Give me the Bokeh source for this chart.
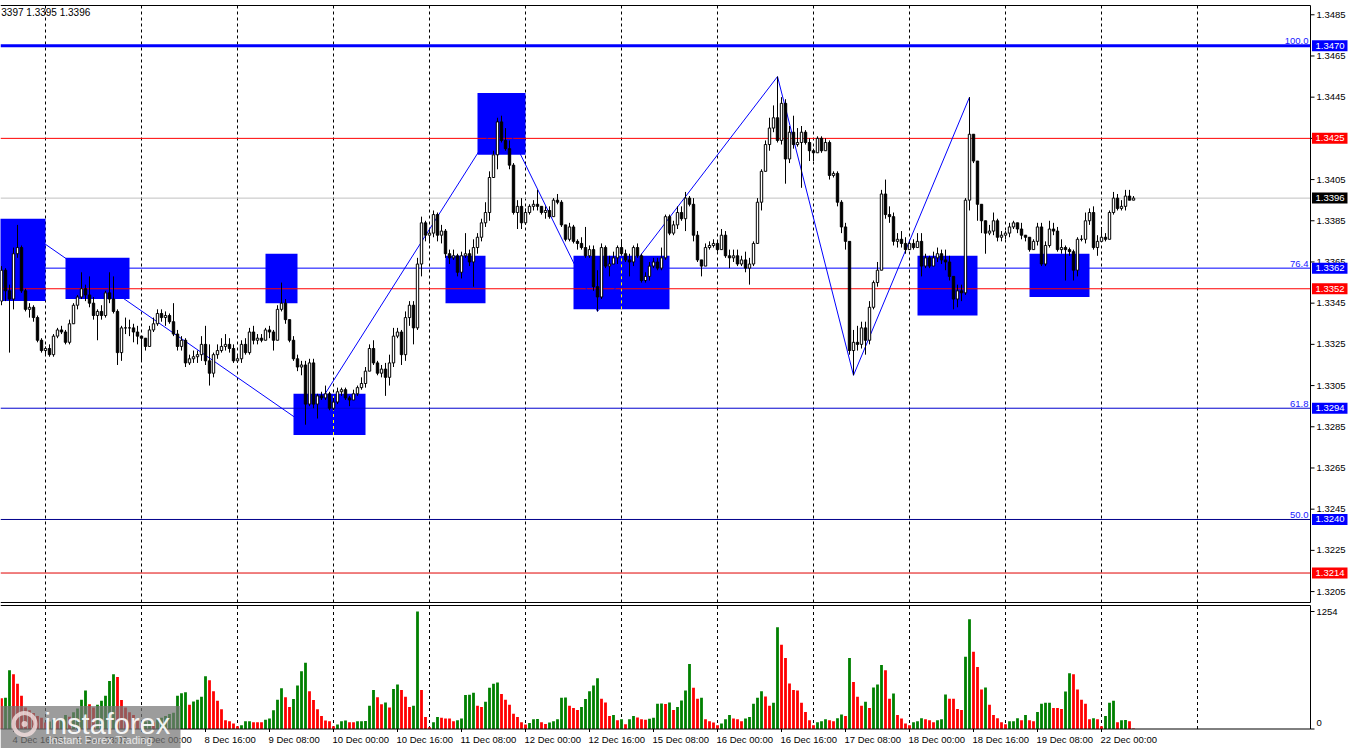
from bokeh.plotting import figure
from bokeh.layouts import column
from bokeh.models import Range1d
from bokeh.core.properties import value
from bokeh.embed import file_html
from bokeh.resources import INLINE

# ---------------- data (hourly candles) ----------------
first_open = 1.3346
closes = [
    1.3361, 1.3351, 1.3347, 1.3369, 1.3372, 1.3351, 1.3342, 1.3343, 1.3338, 1.3327,
    1.3322, 1.3323, 1.3320, 1.3329, 1.3332, 1.3331, 1.3326, 1.3335, 1.3344, 1.3348,
    1.3352, 1.3349, 1.3345, 1.3339, 1.3341, 1.3339, 1.3350, 1.3347, 1.3341, 1.3321,
    1.3333, 1.3333, 1.3333, 1.3331, 1.3329, 1.3328, 1.3324, 1.3332, 1.3335, 1.3340,
    1.3338, 1.3339, 1.3336, 1.3330, 1.3324, 1.3327, 1.3316, 1.3318, 1.3319, 1.3320,
    1.3325, 1.3317, 1.3311, 1.3320, 1.3322, 1.3324, 1.3325, 1.3323, 1.3317, 1.3318,
    1.3325, 1.3321, 1.3331, 1.3327, 1.3328, 1.3327, 1.3332, 1.3331, 1.3327, 1.3342,
    1.3345, 1.3337, 1.3327, 1.3318, 1.3314, 1.3315, 1.3296, 1.3316, 1.3296, 1.3300,
    1.3299, 1.3301, 1.3294, 1.3297, 1.3302, 1.3303, 1.3299, 1.3298, 1.3301, 1.3304,
    1.3306, 1.3312, 1.3323, 1.3316, 1.3311, 1.3313, 1.3309, 1.3316, 1.3329, 1.3331,
    1.3320, 1.3338, 1.3344, 1.3333, 1.3364, 1.3384, 1.3378, 1.3379, 1.3388, 1.3378,
    1.3380, 1.3369, 1.3367, 1.3368, 1.3360, 1.3368, 1.3369, 1.3365, 1.3372, 1.3377,
    1.3384, 1.3389, 1.3406, 1.3417, 1.3433, 1.3424, 1.3420, 1.3412, 1.3389, 1.3392,
    1.3384, 1.3389, 1.3392, 1.3393, 1.3392, 1.3389, 1.3390, 1.3387, 1.3395, 1.3394,
    1.3383, 1.3376, 1.3382, 1.3375, 1.3374, 1.3372, 1.3368, 1.3371, 1.3353, 1.3348,
    1.3372, 1.3363, 1.3364, 1.3367, 1.3372, 1.3369, 1.3366, 1.3365, 1.3372, 1.3368,
    1.3356, 1.3358, 1.3363, 1.3365, 1.3362, 1.3367, 1.3387, 1.3379, 1.3383, 1.3389,
    1.3386, 1.3396, 1.3393, 1.3378, 1.3366, 1.3363, 1.3372, 1.3373, 1.3374, 1.3371,
    1.3378, 1.3368, 1.3367, 1.3368, 1.3364, 1.3366, 1.3362, 1.3364, 1.3374, 1.3394,
    1.3409, 1.3422, 1.3430, 1.3435, 1.3424, 1.3442, 1.3415, 1.3428, 1.3422, 1.3423,
    1.3428, 1.3423, 1.3419, 1.3418, 1.3425, 1.3419, 1.3423, 1.3407, 1.3408, 1.3394,
    1.3382, 1.3375, 1.3322, 1.3326, 1.3325, 1.3333, 1.3327, 1.3343, 1.3355, 1.3361,
    1.3398, 1.3388, 1.3387, 1.3375, 1.3376, 1.3374, 1.3371, 1.3374, 1.3372, 1.3375,
    1.3363, 1.3367, 1.3363, 1.3367, 1.3369, 1.3366, 1.3365, 1.3358, 1.3347, 1.3351,
    1.3350, 1.3395, 1.3427, 1.3414, 1.3393, 1.3385, 1.3379, 1.3380, 1.3385, 1.3377,
    1.3378, 1.3379, 1.3382, 1.3384, 1.3381, 1.3378, 1.3377, 1.3371, 1.3375, 1.3382,
    1.3364, 1.3373, 1.3381, 1.3380, 1.3371, 1.3372, 1.3371, 1.3370, 1.3361, 1.3376,
    1.3376, 1.3385, 1.3389, 1.3372, 1.3375, 1.3377, 1.3376, 1.3389, 1.3396, 1.3391,
    1.3392, 1.3397, 1.3395, 1.3396,
]
highs = [
    1.3363, 1.3362, 1.3354, 1.3372, 1.3383, 1.3373, 1.3352, 1.3345, 1.3344, 1.3339,
    1.3328, 1.3324, 1.3325, 1.3330, 1.3333, 1.3334, 1.3332, 1.3337, 1.3345, 1.3349,
    1.3360, 1.3354, 1.3358, 1.3348, 1.3342, 1.3344, 1.3351, 1.3360, 1.3358, 1.3342,
    1.3334, 1.3338, 1.3337, 1.3335, 1.3334, 1.3329, 1.3328, 1.3334, 1.3338, 1.3342,
    1.3342, 1.3341, 1.3340, 1.3345, 1.3332, 1.3329, 1.3328, 1.3320, 1.3322, 1.3322,
    1.3329, 1.3334, 1.3325, 1.3321, 1.3325, 1.3328, 1.3330, 1.3328, 1.3325, 1.3320,
    1.3327, 1.3328, 1.3333, 1.3334, 1.3330, 1.3330, 1.3333, 1.3334, 1.3332, 1.3344,
    1.3355, 1.3347, 1.3337, 1.3329, 1.3320, 1.3317, 1.3317, 1.3318, 1.3318, 1.3301,
    1.3302, 1.3305, 1.3302, 1.3299, 1.3304, 1.3304, 1.3304, 1.3300, 1.3303, 1.3305,
    1.3309, 1.3314, 1.3325, 1.3327, 1.3317, 1.3315, 1.3316, 1.3320, 1.3333, 1.3333,
    1.3332, 1.3341, 1.3346, 1.3346, 1.3367, 1.3387, 1.3385, 1.3381, 1.3390, 1.3389,
    1.3383, 1.3381, 1.3371, 1.3371, 1.3369, 1.3370, 1.3379, 1.3371, 1.3376, 1.3379,
    1.3386, 1.3394, 1.3409, 1.3419, 1.3435, 1.3436, 1.3430, 1.3424, 1.3413, 1.3395,
    1.3396, 1.3391, 1.3393, 1.3395, 1.3400, 1.3392, 1.3392, 1.3392, 1.3396, 1.3398,
    1.3395, 1.3383, 1.3384, 1.3383, 1.3376, 1.3377, 1.3382, 1.3373, 1.3373, 1.3361,
    1.3374, 1.3373, 1.3368, 1.3370, 1.3373, 1.3376, 1.3371, 1.3369, 1.3373, 1.3374,
    1.3369, 1.3360, 1.3365, 1.3367, 1.3367, 1.3372, 1.3388, 1.3388, 1.3385, 1.3392,
    1.3392, 1.3399, 1.3397, 1.3396, 1.3380, 1.3365, 1.3374, 1.3375, 1.3376, 1.3375,
    1.3381, 1.3380, 1.3371, 1.3371, 1.3371, 1.3368, 1.3370, 1.3367, 1.3375, 1.3396,
    1.3410, 1.3424, 1.3435, 1.3441, 1.3455, 1.3445, 1.3444, 1.3431, 1.3436, 1.3430,
    1.3431, 1.3429, 1.3425, 1.3420, 1.3426, 1.3426, 1.3425, 1.3424, 1.3409, 1.3409,
    1.3395, 1.3384, 1.3375, 1.3332, 1.3334, 1.3336, 1.3336, 1.3346, 1.3356, 1.3365,
    1.3400, 1.3405, 1.3392, 1.3389, 1.3379, 1.3380, 1.3377, 1.3375, 1.3376, 1.3379,
    1.3379, 1.3369, 1.3368, 1.3370, 1.3372, 1.3371, 1.3371, 1.3368, 1.3354, 1.3354,
    1.3354, 1.3396, 1.3445, 1.3427, 1.3414, 1.3392, 1.3385, 1.3383, 1.3389, 1.3386,
    1.3380, 1.3380, 1.3384, 1.3385, 1.3384, 1.3384, 1.3378, 1.3377, 1.3376, 1.3384,
    1.3384, 1.3375, 1.3385, 1.3384, 1.3382, 1.3376, 1.3373, 1.3372, 1.3371, 1.3377,
    1.3378, 1.3389, 1.3391, 1.3392, 1.3378, 1.3382, 1.3379, 1.3390, 1.3399, 1.3398,
    1.3395, 1.3400, 1.3400, 1.3397,
]
lows = [
    1.3344, 1.3346, 1.3321, 1.3342, 1.3367, 1.3350, 1.3341, 1.3338, 1.3336, 1.3326,
    1.3321, 1.3320, 1.3319, 1.3319, 1.3328, 1.3330, 1.3325, 1.3325, 1.3335, 1.3342,
    1.3347, 1.3346, 1.3343, 1.3337, 1.3327, 1.3337, 1.3338, 1.3345, 1.3340, 1.3315,
    1.3317, 1.3330, 1.3329, 1.3326, 1.3325, 1.3317, 1.3322, 1.3325, 1.3331, 1.3334,
    1.3336, 1.3334, 1.3335, 1.3329, 1.3322, 1.3322, 1.3314, 1.3315, 1.3316, 1.3316,
    1.3317, 1.3315, 1.3305, 1.3309, 1.3318, 1.3321, 1.3322, 1.3321, 1.3316, 1.3316,
    1.3316, 1.3320, 1.3320, 1.3325, 1.3325, 1.3326, 1.3327, 1.3328, 1.3322, 1.3327,
    1.3341, 1.3335, 1.3326, 1.3317, 1.3312, 1.3310, 1.3286, 1.3295, 1.3294, 1.3289,
    1.3298, 1.3298, 1.3293, 1.3293, 1.3296, 1.3300, 1.3298, 1.3295, 1.3298, 1.3300,
    1.3303, 1.3304, 1.3312, 1.3315, 1.3310, 1.3309, 1.3300, 1.3305, 1.3314, 1.3328,
    1.3315, 1.3317, 1.3334, 1.3325, 1.3332, 1.3358, 1.3375, 1.3374, 1.3377, 1.3375,
    1.3374, 1.3367, 1.3364, 1.3366, 1.3358, 1.3357, 1.3367, 1.3363, 1.3353, 1.3369,
    1.3375, 1.3382, 1.3385, 1.3406, 1.3410, 1.3423, 1.3419, 1.3410, 1.3388, 1.3381,
    1.3381, 1.3383, 1.3388, 1.3390, 1.3390, 1.3388, 1.3386, 1.3386, 1.3387, 1.3393,
    1.3382, 1.3375, 1.3375, 1.3374, 1.3371, 1.3371, 1.3367, 1.3367, 1.3351, 1.3341,
    1.3347, 1.3362, 1.3358, 1.3364, 1.3364, 1.3368, 1.3365, 1.3358, 1.3363, 1.3367,
    1.3355, 1.3355, 1.3356, 1.3362, 1.3361, 1.3361, 1.3366, 1.3378, 1.3378, 1.3381,
    1.3385, 1.3380, 1.3392, 1.3375, 1.3365, 1.3358, 1.3365, 1.3371, 1.3372, 1.3370,
    1.3371, 1.3367, 1.3362, 1.3365, 1.3363, 1.3363, 1.3360, 1.3354, 1.3363, 1.3374,
    1.3390, 1.3409, 1.3419, 1.3428, 1.3423, 1.3422, 1.3403, 1.3413, 1.3420, 1.3421,
    1.3401, 1.3422, 1.3414, 1.3414, 1.3418, 1.3418, 1.3419, 1.3405, 1.3406, 1.3392,
    1.3379, 1.3371, 1.3320, 1.3310, 1.3322, 1.3323, 1.3320, 1.3325, 1.3342, 1.3353,
    1.3361, 1.3386, 1.3384, 1.3373, 1.3372, 1.3372, 1.3369, 1.3371, 1.3371, 1.3372,
    1.3358, 1.3362, 1.3362, 1.3363, 1.3365, 1.3364, 1.3361, 1.3356, 1.3342, 1.3343,
    1.3346, 1.3349, 1.3390, 1.3413, 1.3385, 1.3379, 1.3369, 1.3378, 1.3378, 1.3375,
    1.3375, 1.3376, 1.3377, 1.3381, 1.3379, 1.3376, 1.3375, 1.3370, 1.3371, 1.3373,
    1.3363, 1.3363, 1.3372, 1.3378, 1.3370, 1.3369, 1.3356, 1.3368, 1.3356, 1.3358,
    1.3375, 1.3374, 1.3383, 1.3371, 1.3368, 1.3375, 1.3375, 1.3376, 1.3388, 1.3390,
    1.3390, 1.3390, 1.3395, 1.3395,
]
volumes = [
    327, 334, 628, 584, 483, 356, 230, 200, 170, 140,
    120, 70, 80, 100, 90, 110, 150, 130, 180, 220,
    312, 410, 265, 229, 258, 301, 356, 512, 584, 555,
    309, 229, 180, 150, 110, 60, 80, 90, 70, 100,
    120, 140, 160, 174, 356, 381, 392, 258, 294, 312,
    345, 563, 519, 403, 301, 210, 94, 83, 58, 29,
    40, 83, 84, 73, 72, 71, 98, 112, 200, 312,
    436, 338, 236, 320, 465, 617, 708, 403, 309, 210,
    138, 91, 83, 29, 47, 83, 91, 73, 72, 83,
    84, 85, 247, 417, 338, 265, 283, 229, 428, 476,
    417, 345, 236, 247, 1254, 417, 127, 18, 73, 127,
    120, 112, 111, 83, 94, 112, 363, 365, 388, 247,
    236, 290, 439, 483, 497, 374, 312, 258, 163, 127,
    73, 47, 65, 105, 106, 73, 54, 69, 83, 105,
    334, 335, 247, 225, 203, 236, 320, 403, 465, 541,
    323, 283, 138, 149, 94, 105, 51, 105, 138, 123,
    105, 98, 109, 120, 269, 271, 268, 283, 203, 236,
    305, 410, 693, 439, 323, 334, 105, 83, 69, 40,
    58, 105, 149, 112, 105, 83, 112, 127, 269, 334,
    403, 348, 247, 280, 1085, 900, 759, 486, 417, 410,
    280, 182, 94, 40, 73, 83, 105, 94, 83, 116,
    156, 138, 759, 501, 345, 247, 290, 225, 443, 476,
    682, 628, 323, 378, 149, 112, 58, 40, 73, 83,
    116, 105, 94, 73, 94, 105, 367, 323, 322, 214,
    203, 770, 1172, 824, 661, 421, 443, 258, 149, 116,
    73, 51, 83, 84, 116, 94, 149, 94, 83, 182,
    269, 280, 281, 225, 224, 214, 399, 595, 584, 421,
    312, 269, 105, 116, 105, 29, 138, 280, 301, 73,
    94, 95, 83, 5,
]
volume_max_label = 1254

x_label_text = ["4 Dec 16:00", "5 Dec 08:00", "8 Dec 00:00", "8 Dec 16:00", "9 Dec 08:00",
                "10 Dec 00:00", "10 Dec 16:00", "11 Dec 08:00", "12 Dec 00:00", "12 Dec 16:00",
                "15 Dec 08:00", "16 Dec 00:00", "16 Dec 16:00", "17 Dec 08:00", "18 Dec 00:00",
                "18 Dec 16:00", "19 Dec 08:00", "22 Dec 00:00"]
x_label_bar = [3, 19, 35, 51, 67, 83, 99, 115, 131, 147, 163, 179, 195, 211, 227, 243, 259, 275]
day_start_bar = [11, 35, 59, 83, 107, 131, 155, 179, 203, 227, 251, 275, 299]

price_ticks = [1.3205, 1.3225, 1.3245, 1.3265, 1.3285, 1.3305, 1.3325, 1.3345,
               1.3365, 1.3385, 1.3405, 1.3425, 1.3445, 1.3465, 1.3485]

fib_levels = [1.3470, 1.3362, 1.3294, 1.3240]
fib_names = ["100.0", "76.4", "61.8", "50.0"]
red_levels = [1.3425, 1.3352, 1.3214]

zone_left = [-1.0, 16, 66, 73, 111, 119, 143, 229, 257]
zone_right = [11, 32, 74, 91, 121, 131, 167, 244, 272]
zone_top = [1.3386, 1.3367, 1.3369, 1.3301, 1.3368, 1.3447, 1.3368, 1.3368, 1.3369]
zone_bottom = [1.3346, 1.3347, 1.3345, 1.3281, 1.3345, 1.3417, 1.3342, 1.3339, 1.3348]

zigzag_bars = [4, 76, 125, 149, 194, 213, 242]
zigzag_kind = ["H", "L", "H", "L", "H", "L", "H"]

header_text = "3397 1.3395 1.3396"

# ---------------- derived ----------------
n = len(closes)
assert len(highs) == n and len(lows) == n and len(volumes) == n
idx = list(range(n))
opens = [first_open] + closes[:-1]
hi = [max(h, o, c) for h, o, c in zip(highs, opens, closes)]
lo = [min(l, o, c) for l, o, c in zip(lows, opens, closes)]
body_top = [max(o, c) for o, c in zip(opens, closes)]
body_bot = [min(o, c) for o, c in zip(opens, closes)]
body_fill = ["white" if c >= o else "black" for o, c in zip(opens, closes)]
vol_color = ["#FF0000"] + ["#008000" if volumes[i] > volumes[i - 1] else "#FF0000" for i in range(1, n)]
zz_y = [hi[b] if k == "H" else lo[b] for b, k in zip(zigzag_bars, zigzag_kind)]
last_price = closes[-1]

# ---------------- layout constants (pixels) ----------------
FONT = value("Liberation Sans")
FS = value("9.5px")
BLUE = "#0000FF"
PW = 1348            # figure width
CW = 1310            # chart area width (price axis line position)
PX_PER_BAR = 4
bpx = 1.0 / PX_PER_BAR          # bar units per pixel
x_start = -0.25
x_edge = x_start + CW * bpx
x_end_full = x_start + PW * bpx

PH = 603
ppx = 1.0 / 20600.0              # price per pixel
chart_top = 1.34895              # price at the top border
top_pad = 5
y_hi = chart_top + top_pad * ppx
y_lo = y_hi - PH * ppx
chart_bot = y_lo + 1.0 * ppx     # bottom border of the price panel

# ---------------- price panel ----------------
p = figure(width=PW, height=PH,
           x_range=Range1d(x_start, x_end_full), y_range=Range1d(y_lo, y_hi),
           output_backend="svg", toolbar_location=None,
           x_axis_location=None, y_axis_location=None, min_border=0,
           background_fill_color="white", border_fill_color="white",
           outline_line_color=None)
p.xgrid.visible = False
p.ygrid.visible = False

gn = len(day_start_bar)
p.segment(x0=day_start_bar, y0=[chart_bot] * gn, x1=day_start_bar, y1=[chart_top] * gn,
          line_color="black", line_width=1, line_dash="3 3")
p.quad(left=zone_left, right=zone_right, top=zone_top, bottom=zone_bottom,
       fill_color=BLUE, line_color=None)
yx, yb, yt = [], [], []
for l, r, t, b in zip(zone_left, zone_right, zone_top, zone_bottom):
    for g in day_start_bar:
        if l < g < r:
            yx.append(g); yb.append(b); yt.append(t)
if yx:
    p.segment(x0=yx, y0=yb, x1=yx, y1=yt, line_color="#FFFF00", line_width=1, line_dash="3 3")

lvl_vals = [last_price] + fib_levels + red_levels
lvl_cols = ["#C0C0C0", "#0000FF", "#0000FF", "#0000CD", "#00008B", "#FF0000", "#FF0000", "#E00000"]
lvl_w = [1, 3, 1, 1, 1, 1, 1, 1]
ln = len(lvl_vals)
p.segment(x0=[x_start] * ln, y0=lvl_vals, x1=[x_edge] * ln, y1=lvl_vals,
          line_color=lvl_cols, line_width=lvl_w)

p.line(x=zigzag_bars, y=zz_y, line_color=BLUE, line_width=1)

p.segment(x0=idx, y0=lo, x1=idx, y1=hi, line_color="black", line_width=1)
p.vbar(x=idx, width=0.6, top=body_top, bottom=body_bot, fill_color=body_fill,
       line_color="black", line_width=1)

# frame: top, bottom and the price axis line
p.segment(x0=[x_start, x_start, x_edge], y0=[chart_top, chart_bot, chart_bot],
          x1=[x_edge, x_edge, x_edge], y1=[chart_top, chart_bot, chart_top],
          line_color="black", line_width=1)
# axis ticks and labels
tn = len(price_ticks)
p.segment(x0=[x_edge] * tn, y0=price_ticks, x1=[x_edge + 4 * bpx] * tn, y1=price_ticks,
          line_color="black", line_width=1)
p.text(x=[x_edge + 6 * bpx] * tn, y=price_ticks, text=[f"{t:.4f}" for t in price_ticks],
       text_font=FONT, text_font_size=FS, text_color="black",
       text_align="left", text_baseline="middle")

# fib names above their lines
p.text(x=[x_edge - 2 * bpx] * len(fib_levels), y=[lv + 1.5 * ppx for lv in fib_levels],
       text=fib_names, text_font=FONT, text_font_size=FS, text_color="#2020FF",
       text_align="right", text_baseline="bottom")

# price tags on the axis
tag_vals = fib_levels + red_levels + [last_price]
tag_cols = [BLUE] * len(fib_levels) + ["#FF0000"] * len(red_levels) + ["#000000"]
gt = len(tag_vals)
p.quad(left=[x_edge + 1.5 * bpx] * gt, right=[x_edge + 37 * bpx] * gt,
       top=[t + 5.5 * ppx for t in tag_vals], bottom=[t - 5.5 * ppx for t in tag_vals],
       fill_color=tag_cols, line_color=None)
p.text(x=[x_edge + 5 * bpx] * gt, y=tag_vals, text=[f"{t:.4f}" for t in tag_vals],
       text_font=FONT, text_font_size=FS, text_color="white",
       text_align="left", text_baseline="middle")

# header
p.text(x=[x_start + 0.2], y=[chart_top - 1 * ppx], text=[header_text], text_font=FONT,
       text_font_size=value("10px"), text_color="black", text_align="left", text_baseline="top")

# ---------------- volume panel ----------------
VH = 145
v_top_pad = 2
v_chart_h = 123.5
vpx = volume_max_label / 117.5          # volume per pixel
vol_top = v_chart_h * vpx
v_bot_extra = VH - v_top_pad - v_chart_h
v = figure(width=PW, height=VH,
           x_range=p.x_range, y_range=Range1d(-v_bot_extra * vpx, vol_top + v_top_pad * vpx),
           output_backend="svg", toolbar_location=None,
           x_axis_location=None, y_axis_location=None, min_border=0,
           background_fill_color="white", border_fill_color="white",
           outline_line_color=None)
v.xgrid.visible = False
v.ygrid.visible = False

v.segment(x0=day_start_bar, y0=[0] * gn, x1=day_start_bar, y1=[vol_top] * gn,
          line_color="black", line_width=1, line_dash="3 3")
v.vbar(x=idx, width=0.7, top=volumes, bottom=0, fill_color=vol_color, line_color=None)

v.segment(x0=[x_start, x_start, x_edge], y0=[vol_top, 0, 0],
          x1=[x_edge, x_edge, x_edge], y1=[vol_top, 0, vol_top],
          line_color="black", line_width=1)
vt = [0, volume_max_label]
v.segment(x0=[x_edge] * 2, y0=vt, x1=[x_edge + 4 * bpx] * 2, y1=vt, line_color="black")
v.text(x=[x_edge + 6 * bpx] * 2, y=[6.5 * vpx, volume_max_label], text=[str(t) for t in vt],
       text_font=FONT, text_font_size=FS, text_color="black",
       text_align="left", text_baseline="middle")

xn = len(x_label_bar)
v.segment(x0=x_label_bar, y0=[0] * xn, x1=x_label_bar, y1=[-3 * vpx] * xn, line_color="black")
v.text(x=[b - bpx for b in x_label_bar], y=[-10.5 * vpx] * xn, text=x_label_text,
       text_font=FONT, text_font_size=FS, text_color="black",
       text_align="left", text_baseline="middle")

# watermark
v.quad(left=[x_start], right=[x_start + 180 * bpx], bottom=[-v_bot_extra * vpx],
       top=[23 * vpx], fill_color="#767676", fill_alpha=0.72, line_color=None)
v.scatter(x=[x_start + 24 * bpx], y=[5 * vpx], marker="circle", size=22,
          fill_color=None, line_color="#F4E0E0", line_width=4, line_alpha=0.8)
v.scatter(x=[x_start + 24 * bpx], y=[5 * vpx], marker="circle", size=6,
          fill_color="#F4E0E0", line_color=None, fill_alpha=0.8)
v.text(x=[x_start + 44 * bpx], y=[5 * vpx], text=["instaforex"], text_font=FONT,
       text_font_size=value("29px"), text_color="white", text_alpha=0.92,
       text_align="left", text_baseline="middle")
v.text(x=[x_start + 48 * bpx], y=[-11 * vpx], text=["Instant Forex Trading"], text_font=FONT,
       text_font_size=value("11px"), text_color="#E6E6E6",
       text_align="left", text_baseline="middle")

layout = column(p, v, spacing=0)
open("out.html", "w").write(file_html(layout, INLINE))
